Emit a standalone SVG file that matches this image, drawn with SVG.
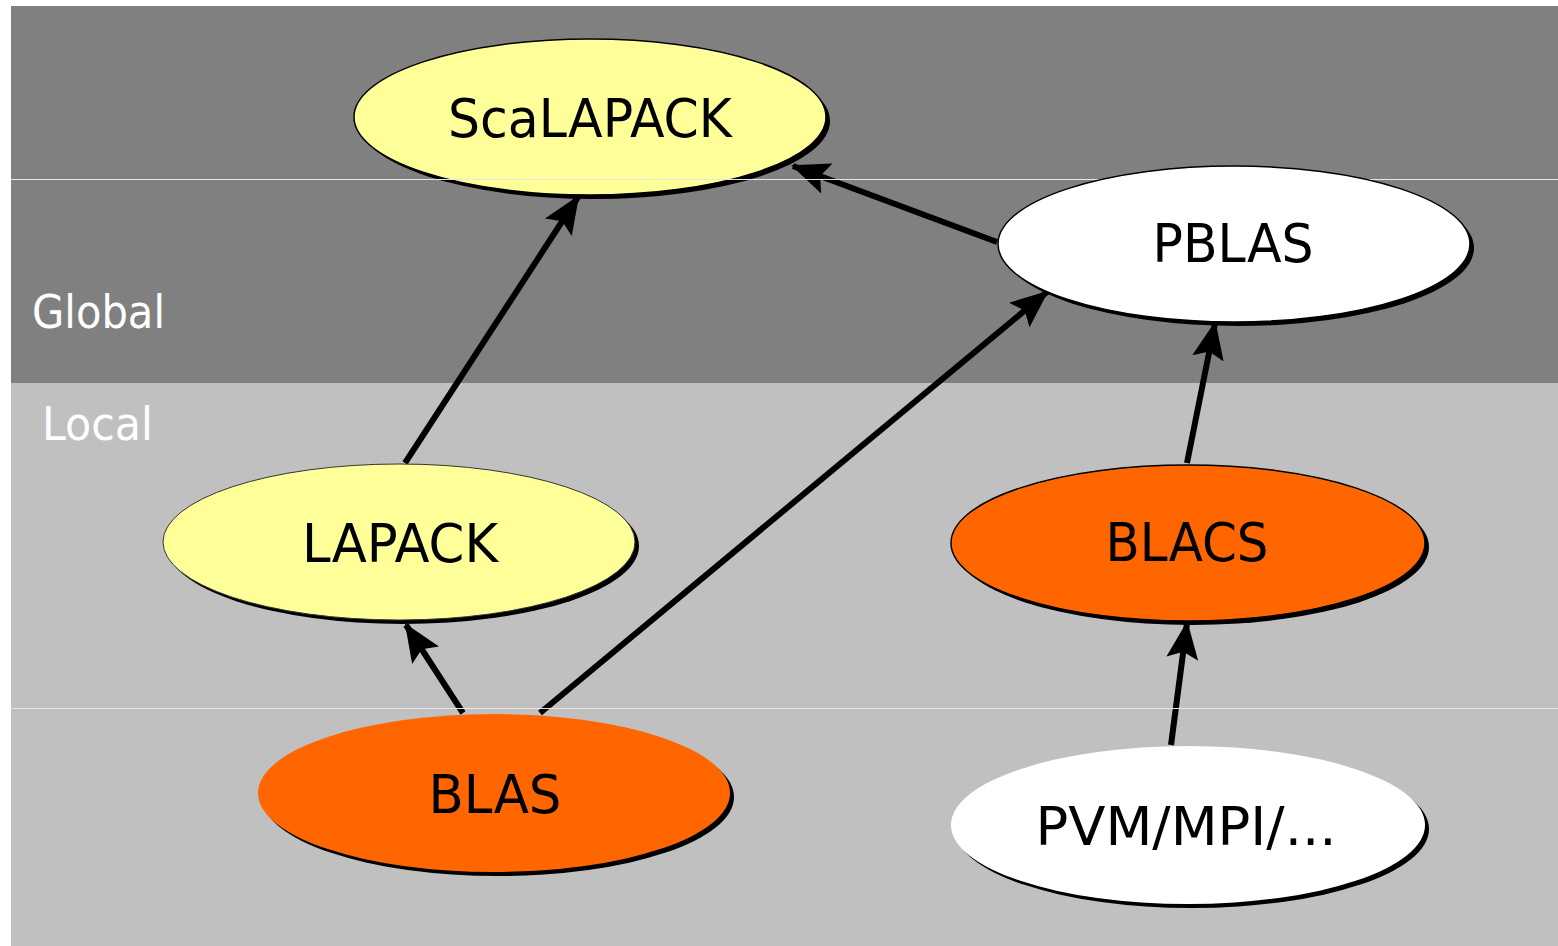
<svg xmlns="http://www.w3.org/2000/svg" width="1558" height="946" viewBox="0 0 1558 946">
<defs>
<style>
.sh{fill:#000}
.nd{stroke:#000;stroke-width:1.5}
.yel{fill:#ffff99}
.org{fill:#ff6600}
.wht{fill:#ffffff}
.lbl{font-family:"DejaVu Sans","Noto Sans",sans-serif;font-size:54px;fill:#000;text-anchor:middle}
.band{font-family:"DejaVu Sans","Noto Sans",sans-serif;font-size:46px;fill:#fff}
.sep{stroke:#e6e6e6;stroke-width:1.2}
.cn{stroke:#000;stroke-width:6;fill:none;marker-end:url(#ah)}
</style>
<marker id="ah" markerUnits="userSpaceOnUse" markerWidth="40" markerHeight="34" refX="36" refY="17" orient="auto">
<path d="M0,1 L38,17 L0,33 L7,17 Z" fill="#000"/>
</marker>
</defs>
<rect x="0" y="0" width="1558" height="946" fill="#ffffff"/>
<rect x="11" y="6" width="1547" height="377" fill="#808080"/>
<rect x="11" y="383" width="1547" height="563" fill="#c0c0c0"/>
<text class="band" x="32" y="328" textLength="133" lengthAdjust="spacingAndGlyphs">Global</text>
<text class="band" x="42" y="440" textLength="111" lengthAdjust="spacingAndGlyphs">Local</text>
<g id="connectors">
<line class="cn" x1="405" y1="463" x2="578" y2="197"/>
<line class="cn" x1="997" y1="242" x2="793" y2="166"/>
<line class="cn" x1="540" y1="713" x2="1047" y2="292"/>
<line class="cn" x1="1187" y1="463" x2="1215" y2="323"/>
<line class="cn" x1="463" y1="713" x2="406" y2="625"/>
<line class="cn" x1="1171" y1="745" x2="1187" y2="623"/>
</g>
<g id="scalapack">
<ellipse class="sh" cx="594" cy="121" rx="236" ry="78"/>
<ellipse class="nd yel" cx="590" cy="117" rx="236" ry="78"/>
<text class="lbl" x="590" y="137" textLength="284" lengthAdjust="spacingAndGlyphs">ScaLAPACK</text>
</g>
<line class="sep" x1="11" y1="179.5" x2="1558" y2="179.5"/>
<line class="sep" x1="11" y1="708.5" x2="1558" y2="708.5"/>
<g id="pblas">
<ellipse class="sh" cx="1238" cy="248" rx="236" ry="78"/>
<ellipse class="nd wht" cx="1234" cy="244" rx="236" ry="78"/>
<text class="lbl" x="1233" y="262" textLength="161" lengthAdjust="spacingAndGlyphs">PBLAS</text>
</g>
<g id="lapack">
<ellipse class="sh" cx="403" cy="546" rx="236" ry="78"/>
<ellipse class="yel" cx="399" cy="542" rx="236" ry="78" stroke="#333" stroke-width="1"/>
<text class="lbl" x="400" y="562" textLength="196" lengthAdjust="spacingAndGlyphs">LAPACK</text>
</g>
<g id="blacs">
<ellipse class="sh" cx="1192" cy="547" rx="237" ry="78"/>
<ellipse class="nd org" cx="1188" cy="543" rx="237" ry="78"/>
<text class="lbl" x="1187" y="561" textLength="163" lengthAdjust="spacingAndGlyphs">BLACS</text>
</g>
<g id="blas">
<ellipse class="sh" cx="498" cy="797" rx="236" ry="79"/>
<ellipse class="org" cx="494" cy="793" rx="236" ry="79"/>
<text class="lbl" x="495" y="813" textLength="133" lengthAdjust="spacingAndGlyphs">BLAS</text>
</g>
<g id="pvm">
<ellipse class="sh" cx="1192" cy="829" rx="237" ry="79"/>
<ellipse class="wht" cx="1188" cy="825" rx="237" ry="79"/>
<text class="lbl" x="1186" y="845" textLength="301" lengthAdjust="spacingAndGlyphs">PVM/MPI/...</text>
</g>
</svg>
